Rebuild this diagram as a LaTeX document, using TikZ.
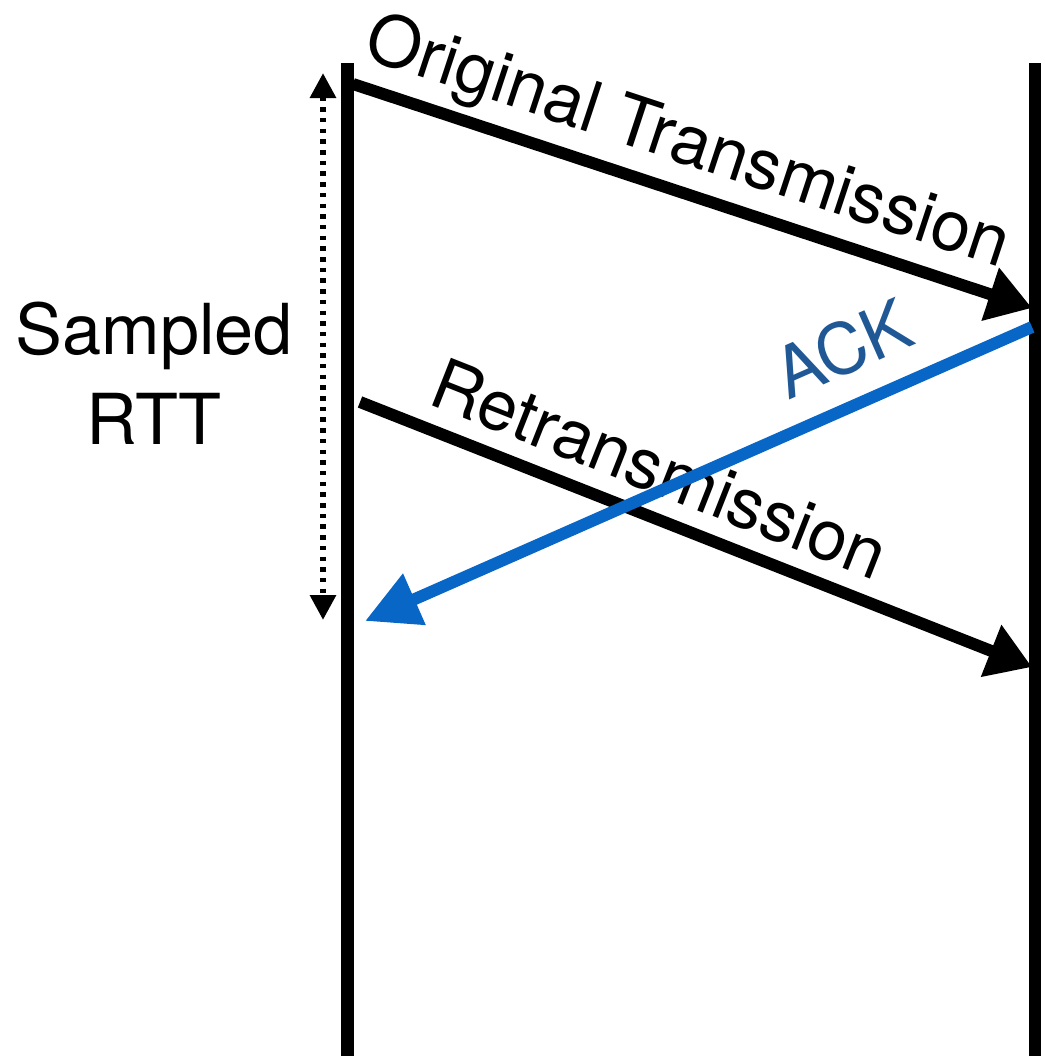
\documentclass[tikz,border=0pt]{standalone}
\usepackage{fontspec}
\setmainfont{TeX Gyre Heros}
\usetikzlibrary{arrows.meta,positioning,calc}
\definecolor{ackline}{HTML}{0766C6}
\definecolor{acktext}{HTML}{1F5895}

\begin{document}
\begin{tikzpicture}[
	msg/.style={line width=3.4pt,-{Triangle[length=0.44cm,width=0.53cm]}},
	lbl/.style={font=\fontsize{20}{25.5}\selectfont,inner sep=0pt,text depth=0pt}]
			\useasboundingbox (0,0) rectangle (10.45,-10.56);
			
			\coordinate (L0) at (3.475,-0.63);
			\coordinate (L1) at (3.475,-10.56);
			\coordinate (R0) at (10.35,-0.63);
			\coordinate (R1) at (10.35,-10.56);
			
			\coordinate (O1) at (3.53,-0.84);
			\coordinate (O2) at (10.32,-3.08);
			\coordinate (T1) at (3.60,-4.02);
			\coordinate (T2) at (10.32,-6.67);
			\coordinate (A1) at (10.32,-3.27);
			\coordinate (A2) at (3.65,-6.21);
			\coordinate (D1) at (3.23,-0.73);
			\coordinate (D2) at (3.23,-6.20);
			
			\draw[line width=3.6pt] (L0) -- (L1);
			\draw[line width=3.4pt] (R0) -- (R1);
			
			\draw[msg] (O1) -- (O2) node[lbl,pos=0.47,sloped,above=0.22cm] (orig) {Original Transmission};
			\draw[msg] (T1) -- (T2) node[lbl,pos=0.42,sloped,above=0.17cm] (retr) {Retransmission};
			\draw[msg,ackline,-{Triangle[length=0.54cm,width=0.53cm]}] (A1) -- (A2) node[lbl,acktext,pos=0.25,sloped,above=0.25cm] (ack) {ACK};
			
			\draw[line width=1.7pt,dash pattern=on 0.045cm off 0.062cm,{Triangle[length=0.25cm,width=0.25cm]}-{Triangle[length=0.25cm,width=0.25cm]}] (D1) -- (D2);
			\node[lbl,align=center] (rtt) at (1.54,-3.73) {Sampled\\RTT};
			
		\end{tikzpicture}
\end{document}
